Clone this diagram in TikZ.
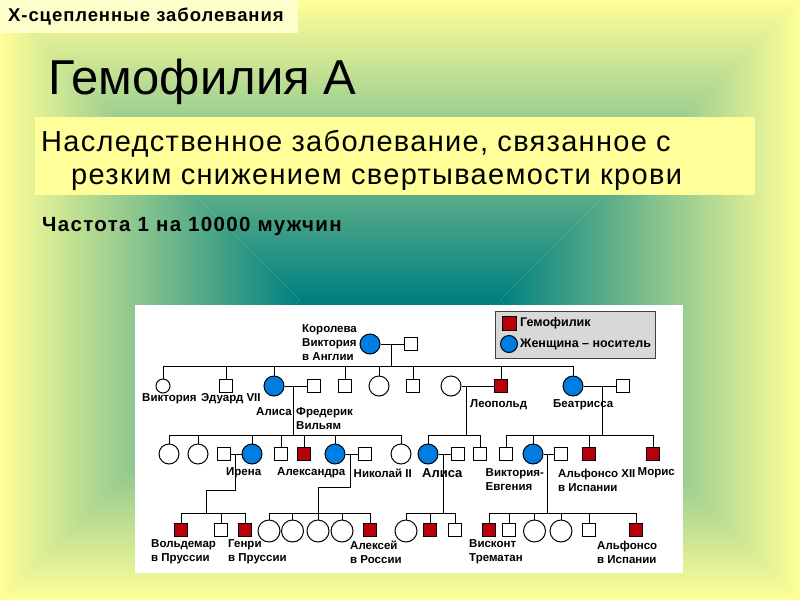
\documentclass[tikz,border=0pt]{standalone}
\usepackage{fontspec}
\setmainfont{Liberation Sans}
\usepackage{xcolor}
\usepackage{tikz}
\usetikzlibrary{positioning}

\definecolor{rimyellow}{RGB}{255,255,153}
\definecolor{coreteal}{RGB}{0,128,128}
\definecolor{tagyellow}{RGB}{255,255,204}
\definecolor{noteyellow}{RGB}{255,255,153}
\definecolor{hemored}{RGB}{185,0,10}
\definecolor{carrierblue}{RGB}{0,125,225}
\definecolor{legendgray}{RGB}{216,216,216}

\begin{document}
\begin{tikzpicture}[
  x=1pt, y=-1pt,
  every node/.style={font=\bfseries\fontsize{11.5}{14}\selectfont},
  male/.style={draw, line width=1pt, minimum size=13pt, inner sep=0pt, fill=white},
  female/.style={draw, circle, line width=1pt, minimum size=20pt, inner sep=0pt, fill=white},
  hemo/.style={male, fill=hemored},
  carrier/.style={female, fill=carrierblue},
  nametag/.style={anchor=west, align=left, inner sep=0pt},
  link/.style={line width=1pt}
]
\useasboundingbox (0,0) rectangle (800,600);
\fill[rimyellow] (0,0) rectangle (800,600);
\shade[top color=rimyellow, bottom color=coreteal] (0,0) -- (800,0) -- (500,300) -- (300,300) -- cycle;
\shade[top color=coreteal, bottom color=rimyellow] (300,300) -- (500,300) -- (800,600) -- (0,600) -- cycle;
\shade[left color=rimyellow, right color=coreteal] (0,0) -- (300,300) -- (0,600) -- cycle;
\shade[left color=coreteal, right color=rimyellow] (800,0) -- (500,300) -- (800,600) -- cycle;

\node (topic) [anchor=north west, fill=tagyellow, minimum height=33pt, text width=282pt, inner xsep=8pt, inner ysep=0pt, align=left,
  font=\bfseries\fontsize{18.5}{22}\selectfont\addfontfeature{LetterSpace=5}] at (0,0) {Х-сцепленные заболевания};
\node (disease) [anchor=base west, inner sep=0pt, font=\fontsize{49}{55}\selectfont] at (48,94) {Гемофилия А};
\node (notebox) [anchor=north west, fill=noteyellow, minimum width=720pt, minimum height=78pt, inner sep=0pt] at (35,117) {};
\node (note) [anchor=base west, inner sep=0pt, font=\fontsize{29}{33}\selectfont\addfontfeature{LetterSpace=4.5}] at (41,151) {Наследственное заболевание, связанное с};
\node (noteb) [anchor=base west, inner sep=0pt, font=\fontsize{29}{33}\selectfont\addfontfeature{LetterSpace=4.5}] at (71,184) {резким снижением свертываемости крови};
\node (rate) [anchor=base west, inner sep=0pt, font=\bfseries\fontsize{20.5}{24}\selectfont\addfontfeature{LetterSpace=6.5}] at (42,231) {Частота 1 на 10000 мужчин};

\node (chart) [anchor=north west, fill=white, minimum width=548pt, minimum height=268pt, inner sep=0pt] at (135,305) {};
\node (legend) [anchor=north west, draw=black!75, fill=legendgray, line width=1pt, minimum width=160pt, minimum height=47pt, inner sep=0pt] at (495,311) {};
\node[hemo, minimum size=14pt] (keyhemo) at (509,323) {};
\node[carrier, minimum size=17pt] (keycarrier) at (509,344) {};
\node[nametag, font=\bfseries\fontsize{12.5}{15}\selectfont] (keyhemotag) at (520,323) {Гемофилик};
\node[nametag, font=\bfseries\fontsize{12.5}{15}\selectfont] (keycarriertag) at (520,344) {Женщина – носитель};

\node[carrier] (queen) at (370,344) {};
\node[male] (albert) at (411,344) {};
\node[nametag] (queentag) at (302,343) {Королева\\Виктория\\в Англии};

\node[female, minimum size=14pt] (vic) at (163,386) {};
\node[male] (edward) at (226,386) {};
\node[carrier] (alice) at (274,386) {};
\node[male] (alicemate) at (314,386) {};
\node[male] (son4) at (345,386) {};
\node[female] (dau5) at (379,386) {};
\node[male] (son6) at (413,386) {};
\node[female] (leowife) at (451,386) {};
\node[hemo] (leopold) at (501,386) {};
\node[carrier] (beatrice) at (573,386) {};
\node[male] (beatmate) at (623,386) {};
\node[nametag] (victag) at (142,399) {Виктория};
\node[nametag] (edwardtag) at (201,399) {Эдуард VII};
\node[nametag] (alicetag) at (256,412) {Алиса};
\node[nametag] (fredtag) at (296,419) {Фредерик\\Вильям};
\node[nametag] (leotag) at (470,405) {Леопольд};
\node[nametag] (beattag) at (553,405) {Беатрисса};

\node[female] (hd1) at (169,454) {};
\node[female] (hd2) at (198,454) {};
\node[male] (irenamate) at (224,454) {};
\node[carrier] (irena) at (252,454) {};
\node[male] (hs4) at (281,454) {};
\node[hemo] (hs5) at (304,454) {};
\node[carrier] (alexandra) at (335,454) {};
\node[male] (nikolai) at (365,454) {};
\node[female] (hd8) at (401,454) {};
\node[carrier] (alice3) at (428,454) {};
\node[male] (alice3mate) at (458,454) {};
\node[male] (ls2) at (480,454) {};
\node[male] (bs1) at (506,454) {};
\node[carrier] (eugenie) at (533,454) {};
\node[male] (alfonso) at (561,454) {};
\node[hemo] (bs3) at (589,454) {};
\node[hemo] (moris) at (653,454) {};
\node[nametag] (irenatag) at (226,473) {Ирена};
\node[nametag] (alexandratag) at (277,473) {Александра};
\node[nametag] (nikolaitag) at (353.5,473) {Николай II};
\node[nametag, font=\bfseries\fontsize{13}{15}\selectfont] (alice3tag) at (422,473) {Алиса};
\node[nametag] (eugenietag) at (485.5,480) {Виктория-\\Евгения};
\node[nametag] (alfonsotag) at (558,480) {Альфонсо XII\\в Испании};
\node[nametag] (moristag) at (637.5,473) {Морис};

\node[hemo] (waldemar) at (181,530) {};
\node[male] (ic2) at (221,530) {};
\node[hemo] (heinrich) at (245,530) {};
\node[female, minimum size=22pt] (ac1) at (269,531) {};
\node[female, minimum size=22pt] (ac2) at (292.5,531) {};
\node[female, minimum size=22pt] (ac3) at (318,531) {};
\node[female, minimum size=22pt] (ac4) at (342,531) {};
\node[hemo] (alexei) at (370,530) {};
\node[female, minimum size=22pt] (lc1) at (406,531) {};
\node[hemo] (lc2) at (430,530) {};
\node[male] (lc3) at (455,530) {};
\node[hemo] (trematon) at (489,530) {};
\node[male] (ec2) at (509,530) {};
\node[female, minimum size=22pt] (ec3) at (534.5,531) {};
\node[female, minimum size=22pt] (ec4) at (561,531) {};
\node[male] (ec5) at (589,530) {};
\node[hemo] (alfonso4) at (636,530) {};
\node[nametag] (waldemartag) at (151,552) {Вольдемар\\в Пруссии};
\node[nametag] (heinrichtag) at (228,552) {Генри\\в Пруссии};
\node[nametag] (alexeitag) at (350,552) {Алексей\\в России};
\node[nametag] (trematontag) at (469,552) {Висконт\\Трематан};
\node[nametag] (alfonso4tag) at (597,552) {Альфонсо\\в Испании};

\coordinate (gen1) at (0,366);
\coordinate (gen2) at (0,435);
\coordinate (gen3) at (0,513);

\draw[link] (queen) -- (albert);
\coordinate (mqueen) at (391,344);
\draw[link] (mqueen) -- (mqueen |- gen1);
\draw[link] (vic |- gen1) -- (beatrice |- gen1);
\foreach \c in {vic,edward,alice,son4,dau5,son6,leopold,beatrice}
  \draw[link] (\c) -- (\c |- gen1);

\draw[link] (alice) -- (alicemate);
\coordinate (malice) at (293.5,386);
\draw[link] (malice) -- (malice |- gen2);
\draw[link] (hd1 |- gen2) -- (hd8 |- gen2);
\foreach \c in {hd1,hd2,irena,hs4,hs5,alexandra,hd8}
  \draw[link] (\c) -- (\c |- gen2);

\draw[link] (leowife) -- (leopold);
\coordinate (mleo) at (466,386);
\draw[link] (mleo) -- (mleo |- gen2);
\draw[link] (alice3 |- gen2) -- (ls2 |- gen2);
\foreach \c in {alice3,ls2}
  \draw[link] (\c) -- (\c |- gen2);

\draw[link] (beatrice) -- (beatmate);
\coordinate (mbeat) at (602,386);
\draw[link] (mbeat) -- (mbeat |- gen2);
\draw[link] (bs1 |- gen2) -- (moris |- gen2);
\foreach \c in {bs1,eugenie,bs3,moris}
  \draw[link] (\c) -- (\c |- gen2);

\draw[link] (irenamate) -- (irena);
\coordinate (mirena) at (235,454);
\coordinate (jirena) at (206,490);
\draw[link] (mirena) |- (jirena) -- (jirena |- gen3);
\draw[link] (waldemar |- gen3) -- (heinrich |- gen3);
\foreach \c in {waldemar,ic2,heinrich}
  \draw[link] (\c) -- (\c |- gen3);

\draw[link] (alexandra) -- (nikolai);
\coordinate (malex) at (350,454);
\coordinate (jalex) at (318,487);
\draw[link] (malex) |- (jalex) -- (jalex |- gen3);
\draw[link] (ac1 |- gen3) -- (alexei |- gen3);
\foreach \c in {ac1,ac2,ac3,ac4,alexei}
  \draw[link] (\c) -- (\c |- gen3);

\draw[link] (alice3) -- (alice3mate);
\coordinate (malice3) at (443,454);
\draw[link] (malice3) -- (malice3 |- gen3);
\draw[link] (lc1 |- gen3) -- (lc3 |- gen3);
\foreach \c in {lc1,lc2,lc3}
  \draw[link] (\c) -- (\c |- gen3);

\draw[link] (eugenie) -- (alfonso);
\coordinate (meugenie) at (547,454);
\draw[link] (meugenie) -- (meugenie |- gen3);
\draw[link] (trematon |- gen3) -- (alfonso4 |- gen3);
\foreach \c in {trematon,ec2,ec3,ec4,ec5,alfonso4}
  \draw[link] (\c) -- (\c |- gen3);
\end{tikzpicture}
\end{document}
